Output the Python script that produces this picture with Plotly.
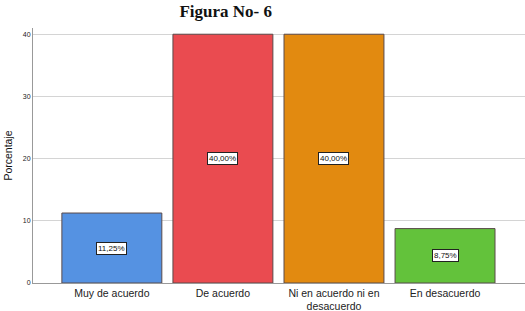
import plotly.graph_objects as go

categories = ["Muy de acuerdo", "De acuerdo", "Ni en acuerdo ni en<br>desacuerdo", "En desacuerdo"]
values = [11.25, 40.0, 40.0, 8.75]
labels = ["11,25%", "40,00%", "40,00%", "8,75%"]
colors = ["#5592E2", "#EA4B50", "#E28A10", "#63C23B"]

x_idx = list(range(len(categories)))

fig = go.Figure()
fig.add_trace(go.Bar(
    x=x_idx, y=values, width=0.9,
    marker=dict(color=colors, line=dict(color="#5a4a4a", width=1)),
    hoverinfo="skip",
))

for xi, v, lab in zip(x_idx, values, labels):
    fig.add_annotation(x=xi, y=v / 2, text=lab, showarrow=False,
                       font=dict(family="Arial, Liberation Sans", size=8, color="#111"),
                       bgcolor="white", bordercolor="#222", borderwidth=1, borderpad=1)

fig.update_layout(
    width=525, height=311,
    margin=dict(l=33, r=0, t=28, b=28),
    paper_bgcolor="white", plot_bgcolor="white",
    showlegend=False,
    title=dict(text="<b>Figura No- 6</b>", x=0.43, xanchor="center", y=0.982, yanchor="top",
               font=dict(family="Liberation Serif, Times New Roman", size=17, color="#111")),
    xaxis=dict(range=[-0.71, 3.72], tickvals=x_idx, ticktext=categories,
               showgrid=False, showline=True, linecolor="#999", ticks="",
               tickfont=dict(family="Arial, Liberation Sans", size=10.5, color="#222"),
               zeroline=False, fixedrange=True),
    yaxis=dict(range=[0, 41], tickvals=[0, 10, 20, 30, 40],
               showgrid=True, gridcolor="#d4d4d4", gridwidth=1,
               showline=True, linecolor="#999", ticks="", zeroline=False,
               tickfont=dict(family="Arial, Liberation Sans", size=7, color="#222"),
               title=dict(text="Porcentaje", standoff=8,
                          font=dict(family="Arial, Liberation Sans", size=10.5, color="#111"))),
)

fig.write_html("out.html")
